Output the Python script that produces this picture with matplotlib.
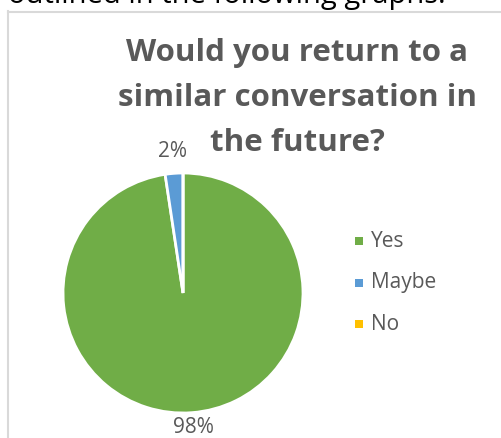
import numpy as np
import matplotlib
matplotlib.use("Agg")
import matplotlib.pyplot as plt
from matplotlib.lines import Line2D

plt.rcParams['font.family'] = ['Open Sans', 'DejaVu Sans']

# data
categories = ['Yes', 'Maybe', 'No']
counts = [41, 1, 0]
pct_labels = ['98%', '2%', '']
colors = ['#70AD47', '#5B9BD5', '#FFC000']
title_lines = ['Would you return to a', 'similar conversation in', 'the future?']
grey = '#595959'

W, H = 501, 438
fig = plt.figure(figsize=(W / 100, H / 100), dpi=100)

# cut-off body text above the chart
fig.text(8 / W, 1 - 3 / H, 'outlined in the following graphs.', fontsize=21,
         color='#000000', ha='left', va='baseline')

# chart frame
fig.add_artist(Line2D([7.5 / W, 7.5 / W], [0, 1 - 11 / H], color='#d9d9d9', lw=1.5,
                      transform=fig.transFigure))
fig.add_artist(Line2D([7.5 / W, 1], [1 - 11.5 / H, 1 - 11.5 / H], color='#d9d9d9', lw=1.5,
                      transform=fig.transFigure))

# title, one line at a time
for i, line in enumerate(title_lines):
    fig.text(297 / W, 1 - (61 + 45 * i) / H, line, fontsize=22.5, fontweight='bold',
             color=grey, ha='center', va='baseline')

# pie
cx, cy, r = 183, 293, 120
ax = fig.add_axes([(cx - r) / W, (H - cy - r) / H, 2 * r / W, 2 * r / H])
wedges, _ = ax.pie(counts, colors=colors, startangle=90, counterclock=False,
                   radius=1, wedgeprops=dict(edgecolor='white', linewidth=2))
ax.set_xlim(-1, 1)
ax.set_ylim(-1, 1)
ax.set_aspect('equal')
ax.axis('off')

label_r = [1.12, 1.18, 1.1]
for w, lab, lr in zip(wedges, pct_labels, label_r):
    if not lab:
        continue
    ang = np.deg2rad((w.theta1 + w.theta2) / 2)
    ax.text(lr * np.cos(ang), lr * np.sin(ang), lab, fontsize=15, color=grey,
            ha='center', va='center', clip_on=False)

# legend
lx, ly0, dy = 358.5, 241, 41.5
for i, (cat, c) in enumerate(zip(categories, colors)):
    y = 1 - (ly0 + i * dy) / H
    fig.patches.append(plt.Rectangle((lx / W - 4 / W, y - 4 / H), 8 / W, 8 / H,
                                     facecolor=c, edgecolor='none',
                                     transform=fig.transFigure))
    fig.text(371 / W, y, cat, fontsize=15, color=grey, ha='left', va='center')

fig.savefig('out.png', dpi=100)
